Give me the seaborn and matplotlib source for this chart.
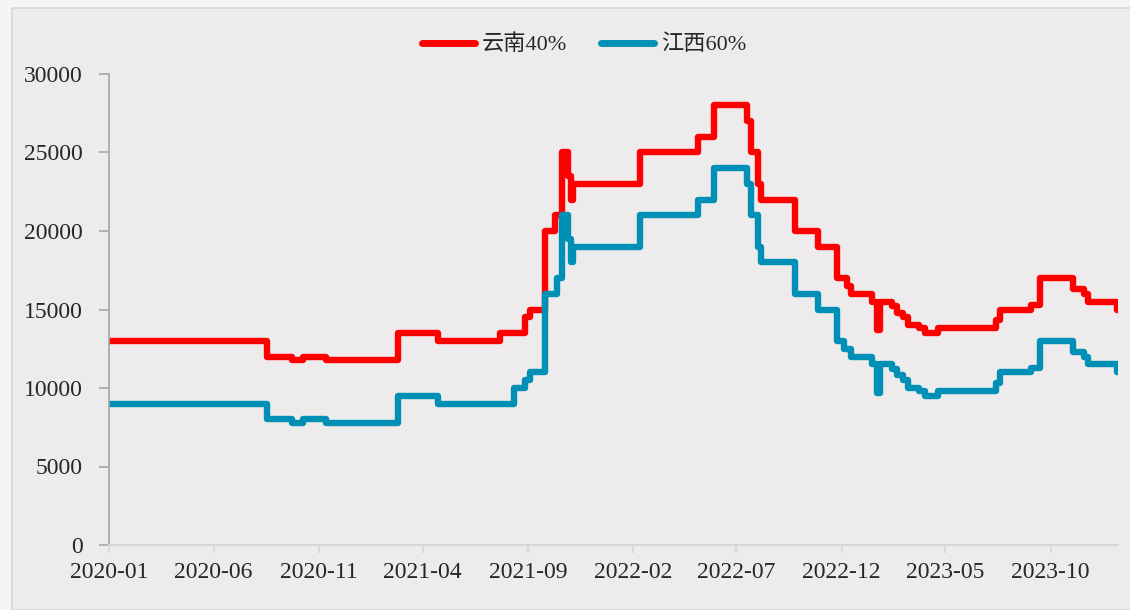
"""
plot.py — 云南40% / 江西60% price step chart, 2020-01 to 2024-01.
Writes: out.png
"""

import numpy as np
import pandas as pd
import matplotlib
matplotlib.use("Agg")   # headless rendering
import matplotlib.pyplot as plt
import matplotlib.dates as mdates
from matplotlib.lines import Line2D
from matplotlib.patches import Rectangle
import seaborn as sns

OUT_PATH = "out.png"

# ─── Data (change points, values hold until next date) ────────────────────────
DATES = [
    "2020-01-01", "2020-08-18", "2020-09-23", "2020-10-09", "2020-11-12",
    "2021-02-24", "2021-04-24", "2021-07-23", "2021-08-12", "2021-08-28",
    "2021-09-04", "2021-09-26", "2021-10-11", "2021-10-14", "2021-10-20",
    "2021-10-29", "2021-11-02", "2021-11-05", "2022-02-11", "2022-05-07",
    "2022-05-29", "2022-07-16", "2022-07-23", "2022-08-01", "2022-08-06",
    "2022-09-25", "2022-10-28", "2022-11-25", "2022-12-04", "2022-12-09",
    "2022-12-15", "2023-01-14", "2023-01-22", "2023-01-26", "2023-02-13",
    "2023-02-20", "2023-03-01", "2023-03-07", "2023-03-23", "2023-04-02",
    "2023-04-20", "2023-07-13", "2023-07-20", "2023-09-02", "2023-09-16",
    "2023-11-02", "2023-11-18", "2023-11-25", "2024-01-05", "2024-01-07",
]
YUNNAN_40 = [
    13000, 12000, 11800, 12000, 11800,
    13500, 13000, 13500, 13500, 14500,
    15000, 20000, 21000, 21000, 25000,
    23500, 22000, 23000, 25000, 26000,
    28000, 27000, 25000, 23000, 22000,
    20000, 19000, 17000, 17000, 16500,
    16000, 15500, 13700, 15500, 15200,
    14800, 14500, 14000, 13800, 13500,
    13800, 14300, 15000, 15300, 17000,
    16300, 16000, 15500, 15000, 15000,
]
JIANGXI_60 = [
    9000, 8000, 7800, 8000, 7800,
    9500, 9000, 9000, 10000, 10500,
    11000, 16000, 16000, 17000, 21000,
    19500, 18000, 19000, 21000, 22000,
    24000, 23000, 21000, 19000, 18000,
    16000, 15000, 13000, 12500, 12500,
    12000, 11500, 9700, 11500, 11200,
    10800, 10500, 10000, 9800, 9500,
    9800, 10300, 11000, 11300, 13000,
    12300, 12000, 11500, 11000, 11000,
]
SERIES_NAMES = ["云南40%", "江西60%"]
COLORS = ["#FF0000", "#0090B6"]
Y_TICKS = [0, 5000, 10000, 15000, 20000, 25000, 30000]
X_TICKS = ["2020-01", "2020-06", "2020-11", "2021-04", "2021-09",
           "2022-02", "2022-07", "2022-12", "2023-05", "2023-10"]

# ─── Style ────────────────────────────────────────────────────────────────────
sns.set_style("white")
plt.rcParams["font.family"] = ["Liberation Serif", "Noto Sans CJK SC"]
PANEL_BG = "#EDEBEC"
OUTER_BG = "#F5F5F5"
FONT_SIZE = 17

# ─── Build long-form frame ────────────────────────────────────────────────────
dates = pd.to_datetime(DATES)
df = pd.concat([
    pd.DataFrame({"date": dates, "price": YUNNAN_40, "series": SERIES_NAMES[0]}),
    pd.DataFrame({"date": dates, "price": JIANGXI_60, "series": SERIES_NAMES[1]}),
], ignore_index=True)

# ─── Plot ─────────────────────────────────────────────────────────────────────
fig = plt.figure(figsize=(11.3, 6.1), dpi=100, facecolor=OUTER_BG)
fig.patches.append(Rectangle((12 / 1130, 0), 1.0, 1 - 8 / 610,
                             transform=fig.transFigure, facecolor=PANEL_BG,
                             edgecolor="#D6D6D6", linewidth=1.2, zorder=-10))

ax = fig.add_axes([109 / 1130, 1 - 545 / 610, (1118 - 109) / 1130, (545 - 74) / 610])
ax.set_facecolor(PANEL_BG)
ax.patch.set_alpha(0.0)

sns.lineplot(data=df, x="date", y="price", hue="series",
             palette=dict(zip(SERIES_NAMES, COLORS)), drawstyle="steps-post",
             linewidth=4.6, legend=False, ax=ax, errorbar=None, sort=False,
             solid_joinstyle="round", solid_capstyle="round")

ax.set_xlim(dates[0], dates[-1])
ax.set_ylim(0, 30000)
ax.set_yticks(Y_TICKS)
ax.set_yticklabels([str(v) for v in Y_TICKS])
ax.set_xticks(pd.to_datetime(X_TICKS))
ax.xaxis.set_major_formatter(mdates.DateFormatter("%Y-%m"))
ax.set_xlabel("")
ax.set_ylabel("")

for side in ["top", "right"]:
    ax.spines[side].set_visible(False)
ax.spines["left"].set_color("#A6A6A6")
ax.spines["bottom"].set_color("#D6D6D6")
ax.spines["left"].set_linewidth(1.2)
ax.spines["bottom"].set_linewidth(1.5)
ax.tick_params(axis="y", length=7, width=1.2, color="#A6A6A6",
               labelsize=FONT_SIZE, pad=12, left=True)
ax.tick_params(axis="x", length=6, width=1.2, color="#D6D6D6",
               labelsize=FONT_SIZE, pad=6, bottom=True)

handles = [Line2D([0], [0], color=c, linewidth=5, solid_capstyle="round")
           for c in COLORS]
fig.legend(handles, SERIES_NAMES, loc="center", ncol=2,
           bbox_to_anchor=(584 / 1130, 1 - 45 / 610), frameon=False,
           fontsize=16, handlelength=2.4, handletextpad=0.3, columnspacing=1.5)

fig.savefig(OUT_PATH, dpi=100, facecolor=OUTER_BG)
plt.close(fig)
